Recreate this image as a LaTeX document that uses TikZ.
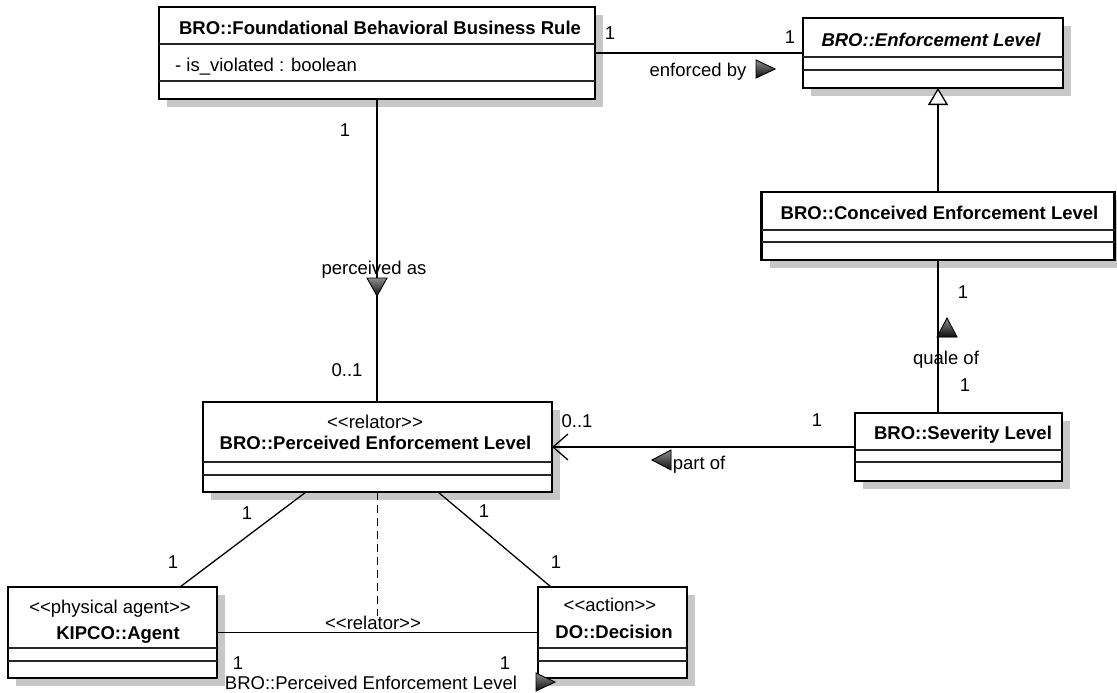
\documentclass[tikz,border=0pt]{standalone}
\usepackage{fontspec}
\setmainfont{Liberation Sans}[Ligatures=TeXOff]
\usetikzlibrary{arrows.meta,calc,backgrounds}
\definecolor{shadowgray}{gray}{0.78}
\newcommand{\sepline}[2]{\draw[sepline] ($(#1.north west)+(0,#2)$) -- ($(#1.north east)+(0,#2)$);}
\newcommand{\boxshadow}[1]{\fill[shadowgray] ($(#1.north west)+(8,8)$) rectangle ($(#1.south east)+(8,8)$);}
\begin{document}
\begin{tikzpicture}[x=1pt,y=-1pt,
  classbox/.style={draw=black, line width=2.6pt, fill=white, outer sep=0pt, inner sep=0pt},
  sepline/.style={line width=1.2pt, draw=black!85},
  txt/.style={font=\fontsize{18.5}{22}\selectfont, inner sep=0pt, text height=13.3pt, text depth=0pt},
  title/.style={txt, font=\fontsize{18.5}{22}\selectfont\bfseries},
  conn/.style={line width=1.3pt, draw=black},
  dirtri/.style={draw=black, line width=0.9pt, top color=black!45, bottom color=black!95}
]
\useasboundingbox (0,0) rectangle (1117,693);

% class boxes
\node[classbox, minimum width=436pt, minimum height=92pt] (fbr) at (377,53) {};
\node[classbox, minimum width=260pt, minimum height=70pt] (enf) at (933,53) {};
\node[classbox, minimum width=353pt, minimum height=68pt] (con) at (938,226) {};
\node[classbox, minimum width=349pt, minimum height=90pt] (pel) at (377.5,447) {};
\node[classbox, minimum width=207pt, minimum height=68pt] (sev) at (958.5,447) {};
\node[classbox, minimum width=209pt, minimum height=91pt] (agt) at (112.5,632.5) {};
\node[classbox, minimum width=149pt, minimum height=91pt] (dec) at (612.5,632.5) {};

% drop shadows behind the boxes
\begin{pgfonlayer}{background}
  \boxshadow{fbr} \boxshadow{enf} \boxshadow{con} \boxshadow{pel}
  \boxshadow{sev} \boxshadow{agt} \boxshadow{dec}
\end{pgfonlayer}

% compartment separators
\sepline{fbr}{37} \sepline{fbr}{74}
\sepline{enf}{39} \sepline{enf}{52}
\sepline{con}{38} \sepline{con}{50}
\sepline{pel}{60} \sepline{pel}{73}
\sepline{sev}{37} \sepline{sev}{49}
\sepline{agt}{61} \sepline{agt}{74}
\sepline{dec}{61} \sepline{dec}{74}

% class names, stereotypes and attributes
\node[title] (fbrT) at (380,28) {BRO::Foundational Behavioral Business Rule};
\node[txt, anchor=west] (fbrA) at (175,65) {- is\_violated : boolean};
\node[title, font=\fontsize{18.5}{22}\selectfont\bfseries\itshape] (enfT) at (931,40) {BRO::Enforcement Level};
\node[title] (conT) at (939.5,213) {BRO::Conceived Enforcement Level};
\node[txt] (pelS) at (375,422) {<<relator>>};
\node[title] (pelT) at (375.5,443) {BRO::Perceived Enforcement Level};
\node[title] (sevT) at (963,433) {BRO::Severity Level};
\node[txt] (agtS) at (110,607) {<<physical agent>>};
\node[title] (agtT) at (118,633) {KIPCO::Agent};
\node[txt] (decS) at (610,605) {<<action>>};
\node[title] (decT) at (614,632) {DO::Decision};

% enforced by
\draw[conn] (fbr.east) -- (enf.west);
\node[txt] (m1) at (610,33) {1};
\node[txt] (m2) at (790,37) {1};
\node[txt] (enfL) at (698,70) {enforced by};
\filldraw[dirtri] (756,60) -- (775,69) -- (756,78) -- cycle;

% generalization
\draw[conn, -{Triangle[open, length=17pt, width=20pt, fill=white]}] (con.north) -- (con.north |- enf.south);

% perceived as
\draw[conn] (fbr.south) -- (fbr.south |- pel.north);
\node[txt] (m3) at (345,130) {1};
\node[txt] (percL) at (374,268) {perceived as};
\filldraw[dirtri] (367,278) -- (387,278) -- (377,296) -- cycle;
\node[txt] (m4) at (347,370) {0..1};

% quale of
\draw[conn] (con.south) -- (con.south |- sev.north);
\node[txt] (m5) at (963,292) {1};
\filldraw[dirtri] (937,337) -- (947,318) -- (957,337) -- cycle;
\node[txt] (qualL) at (946,358) {quale of};
\node[txt] (m6) at (965,385) {1};

% part of
\draw[conn, -{Straight Barb[length=15pt, width=26pt]}] (sev.west) -- (pel.east);
\node[txt] (m7) at (577,421) {0..1};
\node[txt] (m8) at (817,420) {1};
\filldraw[dirtri] (671,450) -- (652,460) -- (671,470) -- cycle;
\node[txt] (partL) at (699,463) {part of};

% relator mediations
\draw[conn] ([xshift=-71.5pt]pel.south) -- ([xshift=67.5pt]agt.north);
\draw[conn] ([xshift=60.5pt]pel.south) -- ([xshift=-61.5pt]dec.north);
\node[txt] (m9) at (247,513) {1};
\node[txt] (m10) at (173,562) {1};
\node[txt] (m11) at (484,511) {1};
\node[txt] (m12) at (556,562) {1};

% material relation with its relator
\draw[conn] (agt.east) -- (dec.west);
\node[txt] (relL) at (373,623) {<<relator>>};
\draw[conn, dash pattern=on 8pt off 5pt] (pel.south) -- (pel.south |- relL.north);
\node[txt] (m13) at (238,663) {1};
\node[txt] (m14) at (505,663) {1};
\node[txt] (matL) at (371,683) {BRO::Perceived Enforcement Level};
\filldraw[dirtri] (536,673) -- (555,682) -- (536,691) -- cycle;
\end{tikzpicture}
\end{document}
